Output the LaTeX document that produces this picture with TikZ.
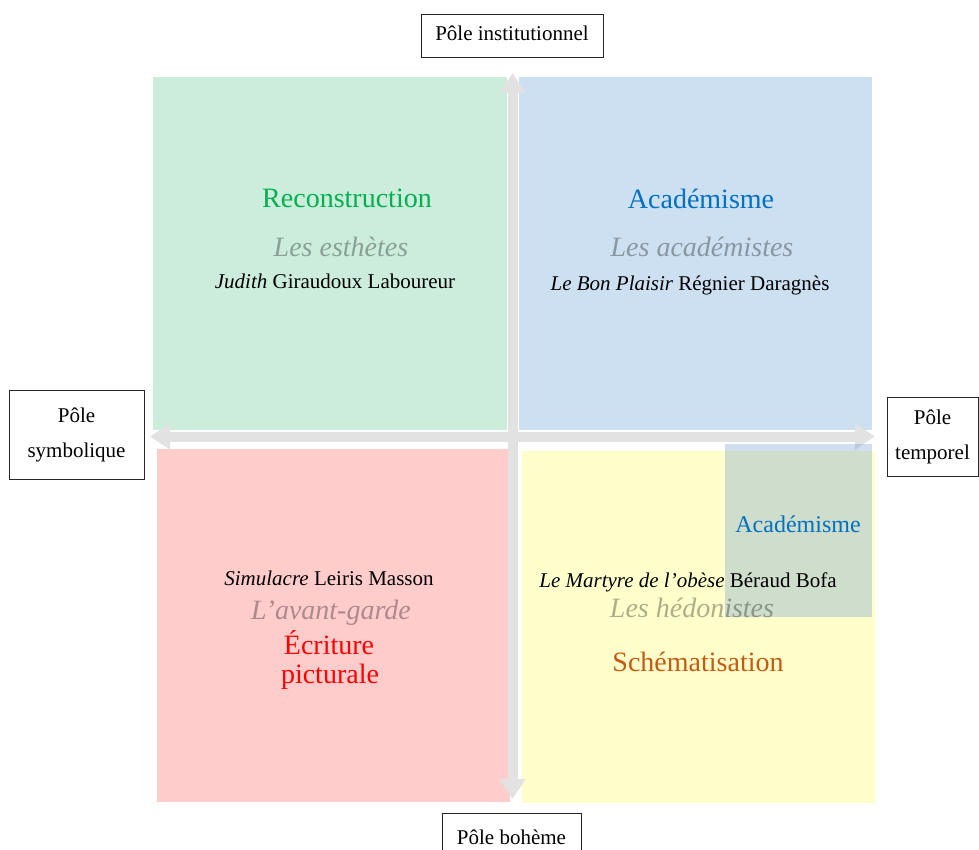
\documentclass[tikz,border=0pt]{standalone}
\usepackage{fontspec}
\setmainfont{Liberation Serif}
\usetikzlibrary{arrows.meta}
\definecolor{qgreen}{HTML}{CCEDDB}
\definecolor{qblue}{HTML}{CCE0F1}
\definecolor{qred}{HTML}{FFCCCC}
\definecolor{qyellow}{HTML}{FFFFCC}
\definecolor{ovblue}{RGB}{98,145,204}
\definecolor{axisgray}{HTML}{E2E2E2}
\definecolor{tgreen}{HTML}{00B050}
\definecolor{tblue}{HTML}{0070C0}
\definecolor{torange}{HTML}{C55A11}
\definecolor{tred}{HTML}{FF0000}
\begin{document}
\begin{tikzpicture}[x=1pt,y=-1pt,
  axis/.style={draw=axisgray, line width=10pt,
    {Triangle[width=25pt,length=20pt]}-{Triangle[width=25pt,length=20pt]}},
  polebox/.style={draw=black!85, line width=0.9pt, fill=white, align=center,
    inner sep=0pt, font=\fontsize{21}{35}\selectfont},
  oneline/.style={text height=14pt, text depth=4pt},
  heading/.style={anchor=base, inner sep=0pt, font=\fontsize{28}{34}\selectfont},
  group/.style={anchor=base, inner sep=0pt, font=\fontsize{28}{34}\selectfont\itshape,
    text=black, text opacity=0.32},
  names/.style={anchor=base, inner sep=0pt, font=\fontsize{21}{25}\selectfont, text=black}]
\useasboundingbox (0,0) rectangle (979,850);

% quadrants
\fill[qgreen]  (153,77)  rectangle (507,430);
\fill[qblue]   (519,77)  rectangle (872,430);
\fill[qred]    (157,449) rectangle (510,802);
\fill[qyellow] (522,451) rectangle (875,803);

% axes
\coordinate (ntop) at (512.5,73);
\coordinate (nbot) at (512.5,799);
\coordinate (wlft) at (150,436.5);
\coordinate (erht) at (875,436.5);
\draw[axis] (nbot) -- (ntop);
\draw[axis] (wlft) -- (erht);

% overlay box
\fill[ovblue, fill opacity=0.3] (725,444) rectangle (872,617);

% pole boxes
\node[polebox, oneline, minimum width=182pt, minimum height=43pt] (pinst) at (512,35.5) {Pôle institutionnel};
\node[polebox, minimum width=135pt, minimum height=89pt] (psymb) at (76.5,434.5) {Pôle\\symbolique};
\node[polebox, minimum width=91pt, minimum height=79pt] (ptemp) at (932.5,436.5) {Pôle\\temporel};
\node[polebox, oneline, minimum width=139pt, minimum height=52pt] (pboh) at (511.5,839) {Pôle bohème};

% green quadrant
\node[heading, text=tgreen] (reco) at (347,208) {Reconstruction};
\node[group] (esth) at (341,256) {Les esthètes};
\node[names] (judi) at (335,288) {\textit{Judith} Giraudoux Laboureur};

% blue quadrant
\node[heading, text=tblue] (acad) at (701,209) {Académisme};
\node[group] (acads) at (702,257) {Les académistes};
\node[names] (bonp) at (690,290) {\textit{Le Bon Plaisir} Régnier Daragnès};

% red quadrant
\node[names] (simu) at (329,585) {\textit{Simulacre} Leiris Masson};
\node[group] (avg) at (331,619) {L’avant-garde};
\node[heading, text=tred] (ecr1) at (329,654) {Écriture};
\node[heading, text=tred] (ecr2) at (330,683) {picturale};

% yellow quadrant
\node[heading, font=\fontsize{24}{28}\selectfont, text=tblue] (acad2) at (798,532) {Académisme};
\node[names] (mart) at (688,587) {\textit{Le Martyre de l’obèse} Béraud Bofa};
\node[group] (hedo) at (692,617) {Les hédonistes};
\node[heading, text=torange] (schem) at (698,671) {Schématisation};
\end{tikzpicture}
\end{document}
